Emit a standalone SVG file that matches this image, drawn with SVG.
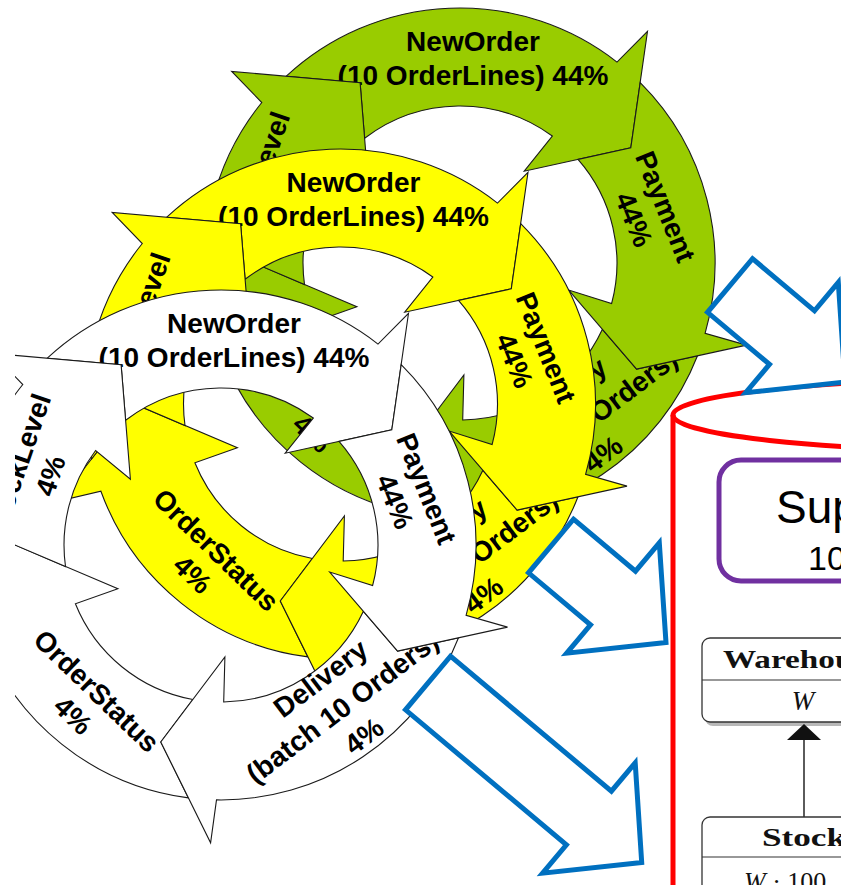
<svg xmlns="http://www.w3.org/2000/svg" xmlns:xlink="http://www.w3.org/1999/xlink" width="841" height="885" viewBox="0 0 841 885">
<style>
.arr{stroke:#1a1a1a;stroke-width:1.1;stroke-linejoin:miter}
.lbl{font-family:"Liberation Sans",Arial,sans-serif;font-weight:bold;font-size:28px;fill:#000;text-anchor:middle;stroke:none}
.blue{fill:#fff;stroke:#0070C0;stroke-width:5;stroke-linejoin:miter}
.box{fill:#fff;stroke:#333;stroke-width:1.3}
.shadow{fill:#b8b8b8;stroke:none}
.cm{font-family:"Liberation Serif","Times New Roman",serif;fill:#111}
</style>
<defs>
<clipPath id="clipL"><rect x="15" y="0" width="826" height="885"/></clipPath>
<path id="a-no" d="M -173.7 -186.8 A 255 255 0 0 1 157 -200.9 L 187.5 -231.6 L 170.8 -115.2 L 64.2 -91.8 L 92.3 -127 A 157 157 0 0 0 -95.4 -124.7 L -99.9 -180.2 Z"/>
<path id="a-pay" d="M 180.2 -180.4 A 255 255 0 0 1 245.1 70.3 L 286.5 82.1 L 176.6 106.1 L 108.7 27.1 L 151.6 40.6 A 157 157 0 0 0 118 -103.6 L 170.8 -115.2 Z"/>
<path id="a-del" d="M 237.5 92.8 A 255 255 0 0 1 -4.5 254.9 L -10.4 297.8 L -60.2 197 L 3.9 111.9 L 2.7 157 A 157 157 0 0 0 142.4 66.3 L 176.6 106.1 Z"/>
<path id="a-os" d="M -32.6 252.9 A 255 255 0 0 1 -239.6 87.2 L -281.8 97 L -206 0 L -103.1 43.8 L -145.6 58.8 A 157 157 0 0 0 -28.2 154.5 L -60.2 197 Z"/>
<path id="a-sl" d="M -249 55 A 255 255 0 0 1 -198.2 -160.5 L -228.3 -191.6 L -99.9 -180.2 L -90.6 -65.8 L -125.4 -94.5 A 157 157 0 0 0 -155.5 21.5 L -206 0 Z"/>
</defs>
<rect x="0" y="0" width="841" height="885" fill="#fff"/>

<g id="cycles" clip-path="url(#clipL)">
<g id="ring-green" transform="translate(460,263)" fill="#99CC00">
 <g id="green-neworder"><use href="#a-no" class="arr"/><text class="lbl" transform="translate(13,-205)"><tspan x="0" y="-7">NewOrder</tspan><tspan x="0" y="27">(10 OrderLines) 44%</tspan></text></g>
 <g id="green-orderstatus"><use href="#a-os" class="arr"/><text class="lbl" transform="translate(-136,158) rotate(44)"><tspan x="0" y="-7">OrderStatus</tspan><tspan x="0" y="27">4%</tspan></text></g>
 <g id="green-delivery"><use href="#a-del" class="arr"/><text class="lbl" transform="translate(121,162) rotate(-37)"><tspan x="0" y="-26">Delivery</tspan><tspan x="0" y="10">(batch 10 Orders)</tspan><tspan x="0" y="46">4%</tspan></text></g>
 <g id="green-payment"><use href="#a-pay" class="arr"/><text class="lbl" transform="translate(190,-50) rotate(68)"><tspan x="0" y="-7">Payment</tspan><tspan x="0" y="27">44%</tspan></text></g>
 <g id="green-stocklevel"><use href="#a-sl" class="arr"/><text class="lbl" transform="translate(-187,-75) rotate(-71)"><tspan x="0" y="-7">StockLevel</tspan><tspan x="0" y="27">4%</tspan></text></g>
</g>
<g id="ring-yellow" transform="translate(340.5,404)" fill="#FFFF00">
 <g id="yellow-neworder"><use href="#a-no" class="arr"/><text class="lbl" transform="translate(13,-205)"><tspan x="0" y="-7">NewOrder</tspan><tspan x="0" y="27">(10 OrderLines) 44%</tspan></text></g>
 <g id="yellow-orderstatus"><use href="#a-os" class="arr"/><text class="lbl" transform="translate(-136,158) rotate(44)"><tspan x="0" y="-7">OrderStatus</tspan><tspan x="0" y="27">4%</tspan></text></g>
 <g id="yellow-delivery"><use href="#a-del" class="arr"/><text class="lbl" transform="translate(121,162) rotate(-37)"><tspan x="0" y="-26">Delivery</tspan><tspan x="0" y="10">(batch 10 Orders)</tspan><tspan x="0" y="46">4%</tspan></text></g>
 <g id="yellow-payment"><use href="#a-pay" class="arr"/><text class="lbl" transform="translate(190,-50) rotate(68)"><tspan x="0" y="-7">Payment</tspan><tspan x="0" y="27">44%</tspan></text></g>
 <g id="yellow-stocklevel"><use href="#a-sl" class="arr"/><text class="lbl" transform="translate(-187,-75) rotate(-71)"><tspan x="0" y="-7">StockLevel</tspan><tspan x="0" y="27">4%</tspan></text></g>
</g>
<g id="ring-white" transform="translate(221,545)" fill="#FFFFFF">
 <g id="white-neworder"><use href="#a-no" class="arr"/><text class="lbl" transform="translate(13,-205)"><tspan x="0" y="-7">NewOrder</tspan><tspan x="0" y="27">(10 OrderLines) 44%</tspan></text></g>
 <g id="white-orderstatus"><use href="#a-os" class="arr"/><text class="lbl" transform="translate(-136,158) rotate(44)"><tspan x="0" y="-7">OrderStatus</tspan><tspan x="0" y="27">4%</tspan></text></g>
 <g id="white-delivery"><use href="#a-del" class="arr"/><text class="lbl" transform="translate(121,162) rotate(-37)"><tspan x="0" y="-26">Delivery</tspan><tspan x="0" y="10">(batch 10 Orders)</tspan><tspan x="0" y="46">4%</tspan></text></g>
 <g id="white-payment"><use href="#a-pay" class="arr"/><text class="lbl" transform="translate(190,-50) rotate(68)"><tspan x="0" y="-7">Payment</tspan><tspan x="0" y="27">44%</tspan></text></g>
 <g id="white-stocklevel"><use href="#a-sl" class="arr"/><text class="lbl" transform="translate(-187,-75) rotate(-71)"><tspan x="0" y="-7">StockLevel</tspan><tspan x="0" y="27">4%</tspan></text></g>
</g>
</g>

<g id="database">
 <path d="M 673 888 L 673 415" fill="none" stroke="#FF0000" stroke-width="5"/>
 <ellipse cx="1003" cy="415" rx="330" ry="36" fill="none" stroke="#FF0000" stroke-width="5"/>
</g>

<g id="sup-box">
 <rect x="719" y="460" width="260" height="121" rx="22" fill="none" stroke="#7030A0" stroke-width="5"/>
 <text x="776" y="523" font-family="'Liberation Sans',Arial,sans-serif" font-size="46" fill="#000">Sup</text>
 <text x="808" y="570" font-family="'Liberation Sans',Arial,sans-serif" font-size="34" fill="#000">10</text>
</g>

<g id="warehouse">
 <rect class="shadow" x="705" y="642" width="210" height="84" rx="8"/>
 <rect class="box" x="702" y="638" width="210" height="84" rx="8"/>
 <line x1="702" y1="680" x2="912" y2="680" stroke="#333" stroke-width="1.2"/>
 <text class="cm" x="723" y="668" font-size="26" font-weight="bold" textLength="158" lengthAdjust="spacingAndGlyphs">Warehouse</text>
 <text class="cm" x="803" y="710" font-size="27" font-style="italic" text-anchor="middle">W</text>
</g>

<g id="stock">
 <rect class="shadow" x="705" y="821" width="210" height="100" rx="8"/>
 <rect class="box" x="702" y="817" width="210" height="100" rx="8"/>
 <line x1="702" y1="857" x2="912" y2="857" stroke="#333" stroke-width="1.2"/>
 <text class="cm" x="762" y="846" font-size="26" font-weight="bold" textLength="84" lengthAdjust="spacingAndGlyphs">Stock</text>
 <text class="cm" x="744" y="890" font-size="26"><tspan font-style="italic">W</tspan> · 100</text>
</g>

<g id="connectors">
 <line x1="804" y1="817" x2="804" y2="739" stroke="#333" stroke-width="1.6"/>
 <polygon points="787,740 821,740 804,724" fill="#111"/>
</g>

<g id="flow-arrows">
 <polygon id="blue-arrow-1" class="blue" points="752.5,258.7 814.5,310.8 838.3,282.3 845,382 745.7,392.7 769.5,364.3 707.5,312.3"/>
 <polygon id="blue-arrow-2" class="blue" points="573.5,519.2 635.5,571.2 659.3,542.8 666,642.5 566.7,653.2 590.5,624.8 528.5,572.8"/>
 <polygon id="blue-arrow-3" class="blue" points="450.5,656.2 611.4,791.2 635.2,762.8 641.7,862.4 542.6,873.2 566.4,844.8 405.5,709.8"/>
</g>
</svg>
